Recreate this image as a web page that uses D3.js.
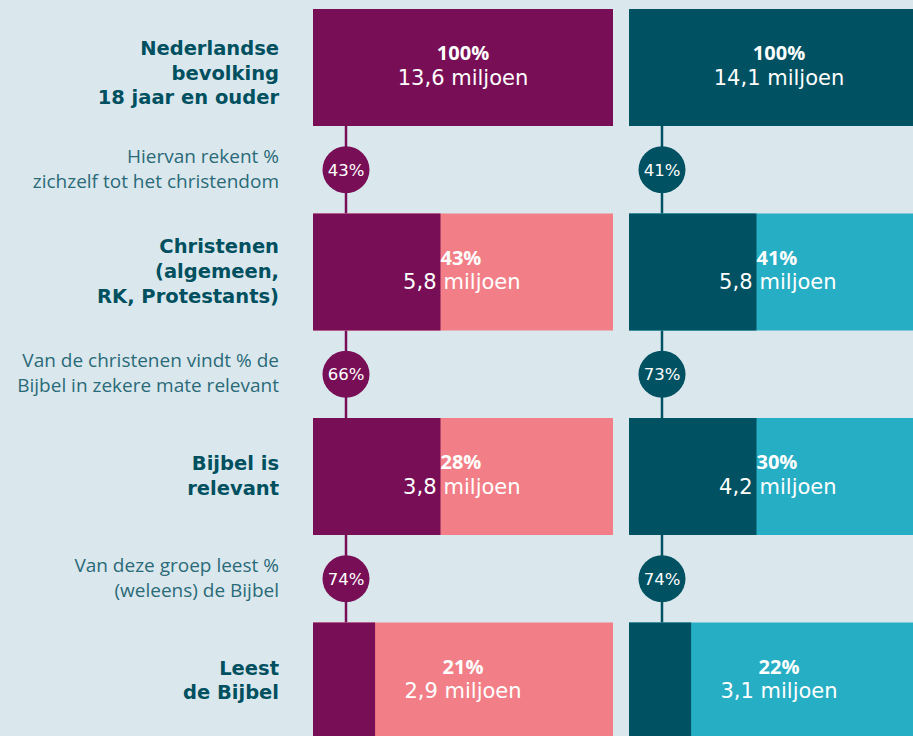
<!DOCTYPE html>
<html>
<head>
<meta charset="utf-8">
<script src="https://cdn.jsdelivr.net/npm/d3@7"></script>
<style>
  html, body { margin: 0; padding: 0; background: #dae8ee; }
  svg { display: block; }
</style>
</head>
<body>
<svg id="chart" width="913" height="736"></svg>
<script>
// ---------- data ----------
const rowLabels = [
  ["Nederlandse", "bevolking", "18 jaar en ouder"],
  ["Christenen", "(algemeen,", "RK, Protestants)"],
  ["Bijbel is", "relevant"],
  ["Leest", "de Bijbel"]
];
const stepLabels = [
  ["Hiervan rekent %", "zichzelf tot het christendom"],
  ["Van de christenen vindt % de", "Bijbel in zekere mate relevant"],
  ["Van deze groep leest %", "(weleens) de Bijbel"]
];
const leftPct = [100, 43, 28, 21];
const leftMillions = ["13,6", "5,8", "3,8", "2,9"];
const leftStep = [43, 66, 74];
const rightPct = [100, 41, 30, 22];
const rightMillions = ["14,1", "5,8", "4,2", "3,1"];
const rightStep = [41, 73, 74];
// share of each bar drawn in the dark tone
const darkShare = [100, 42.5, 42.5, 20.7];
const unitLabel = "miljoen";

// ---------- layout ----------
const W = 913, H = 736;
const svg = d3.select("#chart");
const BOLD = "'Open Sans', 'Noto Sans', sans-serif";
const WIDE = "'DejaVu Sans', 'Open Sans', sans-serif";
const SUB = "'Open Sans', 'Noto Sans', sans-serif";

const barH = 117;
const yRow = d3.scaleLinear().domain([0, 1]).range([9, 213.5]);
const columns = [
  { pct: leftPct, mil: leftMillions, step: leftStep, dark: "#780f56", light: "#f27f87",
    x: d3.scaleLinear().domain([0, 100]).range([313, 613]) },
  { pct: rightPct, mil: rightMillions, step: rightStep, dark: "#005161", light: "#26aec5",
    x: d3.scaleLinear().domain([0, 100]).range([629, 929]) }
];
const circleOffset = 33;
const circleR = 23.5;

svg.append("rect").attr("width", W).attr("height", H).attr("fill", "#dae8ee");

columns.forEach(col => {
  const g = svg.append("g");
  const x0 = col.x(0);
  const cx = x0 + circleOffset;
  // connectors
  col.step.forEach((s, i) => {
    g.append("line")
      .attr("x1", cx).attr("x2", cx)
      .attr("y1", yRow(i) + barH).attr("y2", yRow(i + 1))
      .attr("stroke", col.dark).attr("stroke-width", 2.5);
  });
  // bars
  col.pct.forEach((p, i) => {
    const y = yRow(i);
    g.append("rect")
      .attr("x", x0).attr("y", y)
      .attr("width", col.x(100) - x0).attr("height", barH)
      .attr("fill", col.light);
    g.append("rect")
      .attr("x", x0).attr("y", y)
      .attr("width", col.x(darkShare[i]) - x0).attr("height", barH)
      .attr("fill", col.dark);
    const split = darkShare[i] > 30 && darkShare[i] < 100;
    const bx = split ? col.x(darkShare[i]) : (col.x(0) + col.x(100)) / 2;
    g.append("text")
      .attr("x", bx).attr("y", y + 51)
      .attr("text-anchor", split ? "start" : "middle")
      .attr("font-family", BOLD).attr("font-weight", 700).attr("font-size", 20)
      .attr("fill", "#fff").text(p + "%");
    if (split) {
      g.append("text")
        .attr("x", bx - 4).attr("y", y + 75.5)
        .attr("text-anchor", "end")
        .attr("font-family", WIDE).attr("font-size", 21)
        .attr("fill", "#fff").text(col.mil[i]);
      g.append("text")
        .attr("x", bx + 3).attr("y", y + 75.5)
        .attr("text-anchor", "start")
        .attr("font-family", WIDE).attr("font-size", 21)
        .attr("fill", "#fff").text(unitLabel);
    } else {
      g.append("text")
        .attr("x", bx).attr("y", y + 75.5)
        .attr("text-anchor", "middle")
        .attr("font-family", WIDE).attr("font-size", 21)
        .attr("fill", "#fff").text(col.mil[i] + " " + unitLabel);
    }
  });
  // circles
  col.step.forEach((s, i) => {
    const cy = (yRow(i) + barH + yRow(i + 1)) / 2;
    g.append("circle").attr("cx", cx).attr("cy", cy).attr("r", circleR).attr("fill", col.dark);
    g.append("text")
      .attr("x", cx).attr("y", cy + 6)
      .attr("text-anchor", "middle")
      .attr("font-family", WIDE).attr("font-size", 16.5)
      .attr("fill", "#fff").text(s + "%");
  });
});

// row labels
const labelX = 279;
const lhBold = 24.8;
const lhSub = 24.6;
const labelNudge = [4, -2, -2, -2];
rowLabels.forEach((lines, i) => {
  const mid = yRow(i) + barH / 2;
  const first = mid + 8 + labelNudge[i] - (lines.length - 1) * lhBold / 2;
  const t = svg.append("text")
    .attr("text-anchor", "end")
    .attr("font-family", WIDE).attr("font-weight", 700).attr("font-size", 19.5)
    .attr("fill", "#00505f");
  lines.forEach((l, k) => {
    t.append("tspan").attr("x", labelX).attr("y", first + k * lhBold).text(l);
  });
});
stepLabels.forEach((lines, i) => {
  const mid = (yRow(i) + barH + yRow(i + 1)) / 2;
  const first = mid + 5.5 - (lines.length - 1) * lhSub / 2;
  const t = svg.append("text")
    .attr("text-anchor", "end")
    .attr("font-family", SUB).attr("font-size", 19)
    .attr("fill", "#2b6a78");
  lines.forEach((l, k) => {
    t.append("tspan").attr("x", labelX).attr("y", first + k * lhSub).text(l);
  });
});
</script>
</body>
</html>
